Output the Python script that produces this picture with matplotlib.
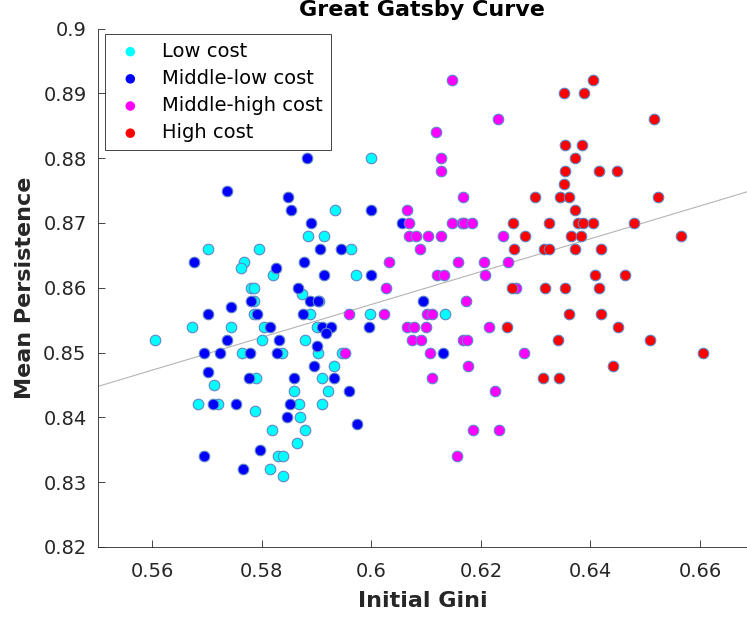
import numpy as np
import matplotlib
matplotlib.use("Agg")
import matplotlib.pyplot as plt

plt.rcParams['font.family'] = ['DejaVu Sans']

# Low cost
low_x = [0.6000, 0.5702, 0.5795, 0.5767, 0.5761, 0.5820, 0.5780, 0.5786, 0.5786, 0.5786,
         0.5672, 0.5744, 0.5803, 0.5604, 0.5801, 0.5933, 0.5884, 0.5913, 0.5962, 0.5971,
         0.5873, 0.5905, 0.5888, 0.5997, 0.6135, 0.5900, 0.5878, 0.5764, 0.5836, 0.5903,
         0.5946, 0.5932, 0.5789, 0.5910, 0.5712, 0.5858, 0.5921, 0.5683, 0.5719, 0.5868,
         0.5910, 0.5787, 0.5870, 0.5818, 0.5879, 0.5864, 0.5830, 0.5839, 0.5814, 0.5839]
low_y = [0.880, 0.866, 0.866, 0.864, 0.863, 0.862, 0.860, 0.860, 0.858, 0.856,
         0.854, 0.854, 0.854, 0.852, 0.852, 0.872, 0.868, 0.868, 0.866, 0.862,
         0.859, 0.858, 0.856, 0.856, 0.856, 0.854, 0.852, 0.850, 0.850, 0.850,
         0.850, 0.848, 0.846, 0.846, 0.845, 0.844, 0.844, 0.842, 0.842, 0.842,
         0.842, 0.841, 0.840, 0.838, 0.838, 0.836, 0.834, 0.834, 0.832, 0.831]

# Middle-low cost
midlow_x = [0.5882, 0.5737, 0.5848, 0.5853, 0.6000, 0.5890, 0.6056, 0.5676, 0.5825, 0.5907,
            0.5945, 0.5877, 0.5913, 0.6000, 0.5866, 0.5781, 0.5888, 0.5902, 0.6095, 0.5744,
            0.5702, 0.5791, 0.5875, 0.5815, 0.5909, 0.5926, 0.5996, 0.5917, 0.5737, 0.5832,
            0.5901, 0.5695, 0.5724, 0.5778, 0.5827, 0.6130, 0.5895, 0.5702, 0.5776, 0.5858,
            0.5932, 0.5959, 0.5711, 0.5753, 0.5852, 0.5845, 0.5974, 0.5797, 0.5695, 0.5766]
midlow_y = [0.880, 0.875, 0.874, 0.872, 0.872, 0.870, 0.870, 0.864, 0.863, 0.866,
            0.866, 0.864, 0.862, 0.862, 0.860, 0.858, 0.858, 0.858, 0.858, 0.857,
            0.856, 0.856, 0.856, 0.854, 0.854, 0.854, 0.854, 0.853, 0.852, 0.852,
            0.851, 0.850, 0.850, 0.850, 0.850, 0.850, 0.848, 0.847, 0.846, 0.846,
            0.846, 0.844, 0.842, 0.842, 0.842, 0.840, 0.839, 0.835, 0.834, 0.832]

# Middle-high cost
midhigh_x = [0.6147, 0.6231, 0.6118, 0.6128, 0.6128, 0.6168, 0.6065, 0.6068, 0.6147, 0.6165,
             0.6170, 0.6183, 0.6069, 0.6081, 0.6104, 0.6128, 0.6241, 0.6088, 0.6033, 0.6159,
             0.6206, 0.6250, 0.6120, 0.6133, 0.6208, 0.6027, 0.6264, 0.6173, 0.5959, 0.6023,
             0.6101, 0.6110, 0.6065, 0.6077, 0.6099, 0.6214, 0.6074, 0.6090, 0.6168, 0.6175,
             0.5952, 0.6107, 0.6279, 0.6177, 0.6110, 0.6225, 0.6186, 0.6233, 0.6157]
midhigh_y = [0.892, 0.886, 0.884, 0.880, 0.878, 0.874, 0.872, 0.870, 0.870, 0.870,
             0.870, 0.870, 0.868, 0.868, 0.868, 0.868, 0.868, 0.866, 0.864, 0.864,
             0.864, 0.864, 0.862, 0.862, 0.862, 0.860, 0.860, 0.858, 0.856, 0.856,
             0.856, 0.856, 0.854, 0.854, 0.854, 0.854, 0.852, 0.852, 0.852, 0.852,
             0.850, 0.850, 0.850, 0.848, 0.846, 0.844, 0.838, 0.838, 0.834]

# High cost
high_x = [0.6405, 0.6352, 0.6389, 0.6516, 0.6354, 0.6385, 0.6371, 0.6354, 0.6416, 0.6449,
          0.6351, 0.6299, 0.6345, 0.6361, 0.6524, 0.6372, 0.6259, 0.6324, 0.6378, 0.6386,
          0.6404, 0.6480, 0.6281, 0.6365, 0.6382, 0.6565, 0.6260, 0.6316, 0.6324, 0.6372,
          0.6419, 0.6409, 0.6463, 0.6256, 0.6317, 0.6354, 0.6416, 0.6361, 0.6419, 0.6247,
          0.6451, 0.6340, 0.6509, 0.6606, 0.6441, 0.6314, 0.6342]
high_y = [0.892, 0.890, 0.890, 0.886, 0.882, 0.882, 0.880, 0.878, 0.878, 0.878,
          0.876, 0.874, 0.874, 0.874, 0.874, 0.872, 0.870, 0.870, 0.870, 0.870,
          0.870, 0.870, 0.868, 0.868, 0.868, 0.868, 0.866, 0.866, 0.866, 0.866,
          0.866, 0.862, 0.862, 0.860, 0.860, 0.860, 0.860, 0.856, 0.856, 0.854,
          0.854, 0.852, 0.852, 0.850, 0.848, 0.846, 0.846]

groups = [("Low cost", low_x, low_y, "cyan"),
          ("Middle-low cost", midlow_x, midlow_y, "blue"),
          ("Middle-high cost", midhigh_x, midhigh_y, "magenta"),
          ("High cost", high_x, high_y, "red")]

xlim = (0.55, 0.6686)
ylim = (0.82, 0.90)
axcol = '#262626'

fig = plt.figure(figsize=(7.47, 6.21), dpi=100)
ax = fig.add_axes([0.1307, 0.1192, 0.8693, 0.8349])

for name, xs, ys, col in groups:
    ax.scatter(xs, ys, s=58, c=col, edgecolors='#5f86c4', linewidths=0.8,
               label=name, zorder=3)

# least squares line through all points
all_x = np.concatenate([g[1] for g in groups])
all_y = np.concatenate([g[2] for g in groups])
coef = np.polyfit(all_x, all_y, 1)
xx = np.array(xlim)
ax.plot(xx, np.polyval(coef, xx), color='#b4b4b4', lw=0.8, zorder=2)

ax.set_xlim(xlim)
ax.set_ylim(ylim)
ax.set_xticks([0.56, 0.58, 0.6, 0.62, 0.64, 0.66])
ax.set_xticklabels(['0.56', '0.58', '0.6', '0.62', '0.64', '0.66'])
ax.set_yticks(np.arange(0.82, 0.9001, 0.01))
ax.set_yticklabels(['0.82', '0.83', '0.84', '0.85', '0.86', '0.87', '0.88', '0.89', '0.9'])
ax.tick_params(direction='in', length=5, width=0.6, colors=axcol, labelsize=14)
ax.tick_params(axis='x', pad=11)
ax.tick_params(axis='y', pad=8)
for side in ['top', 'right']:
    ax.spines[side].set_visible(False)
for side in ['left', 'bottom']:
    ax.spines[side].set_color(axcol)
    ax.spines[side].set_linewidth(0.6)

ax.set_title('Great Gatsby Curve', fontsize=16, fontweight='bold', pad=9)
ax.set_xlabel('Initial Gini', fontsize=16, fontweight='bold', color=axcol, labelpad=7)
ax.set_ylabel('Mean Persistence', fontsize=16, fontweight='bold', color=axcol, labelpad=6)

leg = ax.legend(loc='upper left', bbox_to_anchor=(0.0114, 0.9894), borderaxespad=0,
                fontsize=14, frameon=True, fancybox=False, framealpha=1,
                edgecolor=axcol, labelspacing=0.42, handletextpad=0.75,
                handlelength=1.8, borderpad=0.4, scatterpoints=1, markerscale=0.9)
leg.get_frame().set_linewidth(0.6)
for h in leg.legend_handles:
    h.set_edgecolor('none')

fig.savefig('out.png', dpi=100)
